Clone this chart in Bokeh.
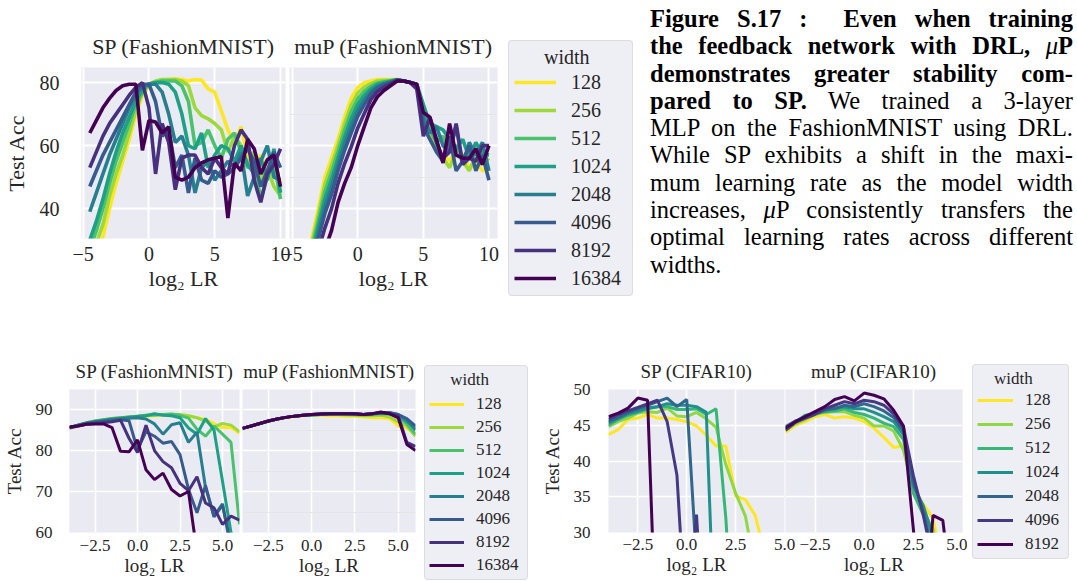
from bokeh.plotting import figure
from bokeh.models import Range1d, Legend, LegendItem, CustomJSTickFormatter, Grid, FixedTicker, Div
from bokeh.layouts import row, column
from bokeh.embed import file_html
from bokeh.resources import INLINE

# ---------------- data ----------------
widths8 = ["128", "256", "512", "1024", "2048", "4096", "8192", "16384"]
widths7 = ["128", "256", "512", "1024", "2048", "4096", "8192"]
colors8 = ["#FDE724", "#9DD93A", "#49C16D", "#1EA087", "#277E8E", "#365B8C", "#46317E", "#440154"]
colors7 = ["#FDE724", "#8FD744", "#35B778", "#20908C", "#30678D", "#443982", "#440154"]

# top row: FashionMNIST trained with DRL
lr_top = [-4.5, -4.0, -3.5, -3.0, -2.5, -2.0, -1.5, -1.0, -0.5, 0.0, 0.5, 1.0, 1.5, 2.0, 2.5,
          3.0, 3.5, 4.0, 4.5, 5.0, 5.5, 6.0, 6.5, 7.0, 7.5, 8.0, 8.5, 9.0, 9.5, 10.0]
top_sp_128 = [22, 26, 31, 40, 48, 55, 62, 70, 76, 79, 80, 80.5, 81, 81.2, 81, 80.5, 81, 80.8, 78, 77, 71, 65, 61, 66, 57, 53, 57, 52, 55, 48]
top_sp_256 = [24, 29, 35, 44, 51, 57, 64, 71, 77, 79.5, 80.5, 81, 81, 81, 80.5, 79, 72, 69.5, 68.5, 67, 65, 58, 63, 60, 54, 58, 49, 53, 47, 44]
top_sp_512 = [27, 33, 40, 48, 55, 61, 67, 73, 77, 79.5, 80, 80.5, 80.5, 80.5, 79, 74, 60, 61, 65, 60, 56, 62, 64, 58, 53, 54, 43, 50, 55, 43]
top_sp_1024 = [30, 36, 43, 51, 58, 64, 69, 74, 78, 79.5, 80, 80, 79.5, 77, 70, 60, 59, 64, 53, 57, 60, 59, 55, 60, 54, 51, 56, 49, 59, 45]
top_sp_2048 = [39, 45, 51, 57, 62, 67, 72, 76, 79, 79.5, 79.5, 77, 70, 61, 63, 57, 45, 53, 55, 49, 52, 55, 53, 58, 44, 50, 55, 60, 50, 49]
top_sp_4096 = [47, 52, 57, 61, 65, 69, 73, 77, 79.5, 79.5, 74, 63, 65, 53, 57, 45, 56, 49, 48, 52, 50, 51, 53, 56, 59, 55, 47, 52, 58, 53]
top_sp_8192 = [53, 58, 63, 67, 70, 73, 76, 78.5, 80, 72, 51, 67, 61, 46, 56, 57, 57, 53, 51, 56, 53, 51, 60, 65, 62, 49, 42, 51, 54, 59]
top_sp_16384 = [64, 68, 72, 75, 77.5, 79, 79.5, 79.5, 58.5, 68, 67.5, 64, 66, 50, 49, 50, 53, 54.5, 55.5, 56, 56.5, 37, 54.5, 52, 62, 59, 51, 55.5, 57, 47]

top_mup_128 = [14, 21, 30.5, 40, 50, 56, 62, 69, 75, 78.5, 80, 80.5, 81, 81, 81, 81, 80.5, 80, 79, 70, 63, 58, 57, 55, 59, 57, 53, 55, 52, 53]
top_mup_256 = [13.2, 19.9, 29, 38.1, 47.7, 53.7, 60, 66.9, 72.8, 76.7, 78.6, 79.7, 80.5, 80.7, 80.8, 81, 80.5, 80, 79, 68, 64, 60, 56, 53, 58, 55, 52, 57, 54, 56]
top_mup_512 = [12.4, 18.8, 27.4, 36.2, 45.4, 51.4, 58, 64.8, 70.6, 74.8, 77.2, 78.8, 79.9, 80.3, 80.6, 80.9, 80.5, 80, 79.5, 71, 65, 61, 63, 58, 60, 56, 59, 55, 58, 57]
top_mup_1024 = [11.6, 17.7, 25.9, 34.3, 43.1, 49.1, 56, 62.7, 68.4, 73, 75.8, 78, 79.4, 80, 80.4, 80.9, 80.5, 80, 79.5, 73, 67, 66, 65, 62, 59, 62, 56, 61, 57, 57]
top_mup_2048 = [10.8, 16.6, 24.3, 32.4, 40.8, 46.8, 54, 60.6, 66.2, 71.1, 74.4, 77.1, 78.8, 79.6, 80.2, 80.8, 80.5, 80, 79.5, 69, 64, 66, 60, 58, 66, 54, 61, 57, 61, 52]
top_mup_4096 = [10, 15.5, 22.8, 30.5, 38.5, 44.5, 52, 58.5, 64, 69.3, 73, 76.3, 78.3, 79.3, 80, 80.8, 80.5, 80, 79, 66, 62, 58, 55, 63, 52, 55, 60, 52, 57, 49]
top_mup_8192 = [8.4, 13.3, 19.7, 26.7, 33.9, 39.9, 48, 54.3, 59.6, 65.6, 70.2, 74.6, 77.2, 78.6, 79.6, 80.7, 80.5, 80, 78, 63, 69, 61, 56, 58, 67, 54, 56, 55, 60, 60]
top_mup_16384 = [6, 10, 15, 21, 27, 33, 42, 48, 53, 60, 66, 72, 75.5, 77.5, 79, 80.5, 80.5, 80, 79.5, 70.5, 69, 62, 54.5, 67, 57, 56, 56, 59, 54, 60]

# bottom-left: FashionMNIST
lr_fm = [-4.0, -3.5, -3.0, -2.5, -2.0, -1.5, -1.0, -0.5, 0.0, 0.5, 1.0, 1.5, 2.0, 2.5, 3.0, 3.5, 4.0, 4.5, 5.0, 5.5, 6.0]
fm_sp_128 = [85.4, 86.0, 86.6, 87.0, 87.3, 87.6, 87.8, 88.0, 88.2, 88.4, 88.5, 88.6, 88.6, 88.6, 88.4, 88.0, 87.6, 86.6, 85.6, 85.6, 84.2]
fm_sp_256 = [85.6, 86.2, 86.8, 87.2, 87.5, 87.8, 88.0, 88.2, 88.4, 88.6, 88.7, 88.8, 88.8, 88.8, 88.5, 88.0, 87.2, 85.8, 86.6, 86.2, 84.6]
fm_sp_512 = [85.6, 86.2, 86.8, 87.2, 87.5, 87.8, 88.0, 88.2, 88.4, 88.6, 88.7, 88.8, 88.9, 88.6, 87.9, 85.2, 83.5, 86.0, 84.0, 82.0, 62.0]
fm_sp_1024 = [85.6, 86.2, 86.7, 87.1, 87.4, 87.7, 87.9, 88.1, 88.3, 88.5, 89.0, 88.6, 88.5, 88.0, 85.5, 84.0, 87.8, 85.0, 72.5, 60.0, 52.0]
fm_sp_2048 = [85.6, 86.2, 86.7, 87.0, 87.3, 87.5, 87.7, 87.9, 88.0, 87.7, 86.5, 84.0, 86.3, 86.8, 82.0, 84.5, 71.0, 64.0, 67.0, 56.0, 48.0]
fm_sp_4096 = [85.6, 86.1, 86.6, 86.9, 87.1, 87.3, 87.5, 87.3, 80.2, 84.6, 83.5, 81.8, 82.2, 79.0, 70.5, 64.8, 71.5, 63.8, 66.7, 57.0, 50.0]
fm_sp_8192 = [85.5, 86.0, 86.4, 86.6, 86.8, 87.0, 87.4, 83.0, 79.5, 86.2, 80.0, 77.3, 75.8, 72.0, 70.2, 73.6, 67.2, 66.0, 62.0, 64.0, 63.0]
fm_sp_16384 = [85.8, 86.0, 86.4, 86.5, 86.5, 85.6, 79.8, 79.7, 82.6, 75.3, 72.9, 74.5, 70.5, 68.9, 70.0, 55.0, 50.0, 45.0, 42.0, 40.0, 38.0]

fm_mup_128 = [85.4, 86.0, 86.6, 87.1, 87.6, 88.0, 88.3, 88.5, 88.6, 88.6, 88.5, 88.5, 88.4, 88.4, 88.2, 88.0, 88.0, 87.8, 86.0, 85.5, 84.0]
fm_mup_256 = [85.4, 86.0, 86.6, 87.2, 87.7, 88.1, 88.4, 88.6, 88.7, 88.8, 88.8, 88.8, 88.7, 88.6, 88.5, 88.5, 88.6, 88.2, 87.0, 86.0, 83.5]
fm_mup_512 = [85.4, 86.0, 86.6, 87.2, 87.7, 88.1, 88.4, 88.6, 88.7, 88.8, 88.9, 88.9, 88.9, 88.8, 88.7, 88.8, 89.0, 88.9, 88.3, 86.5, 84.0]
fm_mup_1024 = [85.4, 86.0, 86.6, 87.2, 87.7, 88.1, 88.4, 88.6, 88.7, 88.8, 88.9, 89.0, 89.0, 88.9, 88.8, 88.9, 89.1, 89.2, 88.5, 87.0, 85.5]
fm_mup_2048 = [85.4, 86.0, 86.6, 87.2, 87.7, 88.1, 88.4, 88.6, 88.8, 88.9, 89.0, 89.0, 89.0, 88.9, 88.8, 89.0, 89.2, 89.3, 88.8, 87.5, 85.0]
fm_mup_4096 = [85.4, 86.0, 86.6, 87.2, 87.7, 88.1, 88.4, 88.6, 88.8, 88.9, 89.0, 89.0, 89.0, 88.9, 88.8, 89.0, 89.2, 89.2, 88.8, 87.8, 86.0]
fm_mup_8192 = [85.4, 86.0, 86.6, 87.2, 87.7, 88.1, 88.4, 88.6, 88.8, 88.9, 89.0, 89.0, 89.0, 89.0, 88.8, 89.0, 89.2, 89.0, 88.5, 82.0, 81.0]
fm_mup_16384 = [85.4, 86.0, 86.6, 87.2, 87.7, 88.1, 88.4, 88.6, 88.8, 88.9, 89.0, 89.0, 89.0, 89.0, 88.8, 89.0, 89.4, 89.0, 88.0, 81.5, 80.0]

# bottom-right: CIFAR10
lr_cf = [-4.0, -3.5, -3.0, -2.5, -2.0, -1.5, -1.0, -0.5, 0.0, 0.5, 1.0, 1.5, 2.0, 2.5, 3.0, 3.5, 4.0, 4.5, 5.0]
cf_sp_128 = [43.7, 44.4, 45.8, 46.0, 46.5, 46.0, 46.0, 45.8, 45.5, 44.9, 43.6, 42.1, 42.1, 35.1, 34.6, 32.4, 27.0, 20.0, 15.0]
cf_sp_256 = [44.8, 45.5, 46.0, 46.7, 46.9, 46.8, 47.4, 46.3, 46.2, 46.8, 45.9, 44.7, 39.5, 35.5, 32.3, 25.0, 15.0, 10.0, 10.0]
cf_sp_512 = [45.0, 45.8, 46.4, 46.8, 47.3, 47.6, 47.6, 47.2, 47.2, 47.3, 46.5, 47.3, 32.0, 10.0, 10.0, 10.0, 10.0, 10.0, 10.0]
cf_sp_1024 = [45.3, 46.0, 46.6, 47.0, 47.4, 47.6, 48.0, 47.8, 47.8, 47.6, 46.8, 10.0, 10.0, 10.0, 10.0, 10.0, 10.0, 10.0, 10.0]
cf_sp_2048 = [45.5, 46.1, 46.8, 47.3, 47.8, 48.3, 48.8, 47.6, 48.6, 26.0, 10.0, 10.0, 10.0, 10.0, 10.0, 10.0, 10.0, 10.0, 10.0]
cf_sp_4096 = [45.8, 46.5, 47.0, 47.5, 48.0, 48.5, 45.5, 38.0, 15.0, 32.5, 10.0, 10.0, 10.0, 10.0, 10.0, 10.0, 10.0, 10.0, 10.0]
cf_sp_8192 = [46.2, 46.7, 47.4, 48.8, 48.5, 10.0, 10.0, 10.0, 10.0, 10.0, 10.0, 10.0, 10.0, 10.0, 10.0, 10.0, 10.0, 10.0, 10.0]

cf_mup_128 = [44.0, 45.0, 45.5, 46.2, 46.5, 46.0, 46.2, 46.0, 45.5, 44.6, 43.3, 41.9, 42.1, 36.0, 34.0, 32.0, 25.0, 18.0, 12.0]
cf_mup_256 = [44.3, 45.2, 45.8, 46.5, 46.8, 46.9, 46.9, 46.4, 46.0, 44.9, 44.9, 44.2, 41.5, 36.0, 33.0, 30.5, 24.0, 17.0, 12.0]
cf_mup_512 = [44.4, 45.4, 46.4, 46.6, 46.9, 47.0, 47.3, 46.8, 46.5, 46.0, 45.3, 44.8, 43.0, 35.5, 32.5, 29.0, 22.0, 16.0, 12.0]
cf_mup_1024 = [44.5, 45.5, 46.3, 46.7, 47.0, 47.4, 47.6, 47.3, 47.3, 46.8, 46.2, 45.5, 43.7, 36.5, 33.8, 29.5, 22.0, 16.0, 12.0]
cf_mup_2048 = [44.8, 45.6, 46.0, 46.5, 47.2, 47.3, 47.8, 47.6, 48.0, 47.6, 47.0, 46.1, 44.2, 37.0, 33.0, 27.0, 20.0, 15.0, 12.0]
cf_mup_4096 = [44.3, 45.4, 46.0, 46.6, 47.3, 47.8, 48.3, 48.0, 48.5, 48.3, 47.8, 46.6, 44.7, 38.0, 32.5, 26.0, 20.0, 15.0, 12.0]
cf_mup_8192 = [44.6, 45.5, 46.2, 46.9, 47.6, 48.6, 49.0, 48.4, 49.5, 49.2, 48.7, 47.1, 44.9, 30.5, 15.0, 32.4, 31.7, 20.0, 15.0]

top_ticks_x = [-5, 0, 5, 10]
top_ticks_y = [40, 60, 80]
fm_ticks_x = [-2.5, 0, 2.5, 5]
fm_ticks_y = [60, 70, 80, 90]
cf_ticks_x = [-2.5, 0, 2.5, 5]
cf_ticks_y = [30, 35, 40, 45, 50]

# ---------------- styling helpers ----------------
FONT = "Liberation Serif"
INK = "#262626"
BG = "#EAEAF2"


def fmt(dec):
    return CustomJSTickFormatter(
        code="return (tick < 0 ? '\u2212' : '') + Math.abs(tick).toFixed(%d);" % dec)


def panel(w, h, bl, br, bt, bb, xr, yr, xt, yt, title, title_fs, tick_fs, lab_fs, ylabel, dec,
          x_std, xl_std, y_std, yl_std, t_std, grid_w, clear=False, shift=0):
    p = figure(width=w, height=h, x_range=Range1d(*xr), y_range=Range1d(*yr),
               output_backend="svg", toolbar_location=None, title=title,
               y_axis_location="left" if ylabel else None,
               min_border_left=bl, min_border_right=br, min_border_top=bt, min_border_bottom=bb)
    p.background_fill_color = BG
    p.outline_line_color = None
    if clear:
        p.border_fill_alpha = 0.0
    if shift:
        p.margin = (0, 0, 0, -shift)
    t = p.title
    t.align = "center"
    t.text_font = FONT
    t.text_font_size = f"{title_fs}px"
    t.text_font_style = "normal"
    t.text_color = INK
    t.standoff = t_std

    def style(ax, std, lstd):
        ax.axis_line_color = None
        ax.major_tick_line_color = None
        ax.minor_tick_line_color = None
        ax.major_tick_out = 0
        ax.major_tick_in = 0
        ax.major_label_standoff = std
        ax.axis_label_standoff = lstd
        ax.major_label_text_font = FONT
        ax.major_label_text_font_size = f"{tick_fs}px"
        ax.major_label_text_color = INK
        ax.axis_label_text_font = FONT
        ax.axis_label_text_font_size = f"{lab_fs}px"
        ax.axis_label_text_font_style = "normal"
        ax.axis_label_text_color = INK

    ax = p.xaxis[0]
    ax.ticker = FixedTicker(ticks=xt)
    ax.formatter = fmt(dec)
    ax.axis_label = "log\u2082 LR"
    style(ax, x_std, xl_std)
    p.xgrid.grid_line_color = "white"
    p.xgrid.grid_line_width = grid_w
    if ylabel:
        ay = p.yaxis[0]
        ay.ticker = FixedTicker(ticks=yt)
        ay.formatter = fmt(0)
        ay.axis_label = ylabel
        style(ay, y_std, yl_std)
        p.ygrid.grid_line_color = "white"
        p.ygrid.grid_line_width = grid_w
    else:
        p.add_layout(Grid(dimension=1, ticker=FixedTicker(ticks=yt),
                          grid_line_color="white", grid_line_width=grid_w))
    return p


def draw(p, xs, series, colors, lw):
    return [p.line(xs, ys, line_color=c, line_width=lw) for ys, c in zip(series, colors)]


def legend_fig(w, h, xs, series, labels, colors, lw, loc, fs, glyph_w, item_h, spacing, pad,
               standoff, nbsp, label_w, title_std):
    """A borderless figure that only holds the legend box; its (hidden) key lines carry the panel's series."""
    lf = figure(width=w, height=h, x_axis_location=None, y_axis_location=None,
                toolbar_location=None, output_backend="svg", min_border=0)
    lf.frame_align = False
    lf.outline_line_color = None
    lf.background_fill_color = "white"
    lf.border_fill_color = "white"
    for g in lf.grid:
        g.visible = False
    keys = [lf.line(xs, ys, line_color=c, line_width=lw, visible=False) for ys, c in zip(series, colors)]
    items = [LegendItem(label=l, renderers=[r]) for l, r in zip(labels, keys)]
    leg = Legend(items=items, location=loc, title="\u00a0" * nbsp + "width")
    leg.inactive_fill_alpha = 0.0
    leg.title_text_font = FONT
    leg.title_text_font_size = f"{fs}px"
    leg.title_text_font_style = "normal"
    leg.title_text_color = INK
    leg.title_standoff = title_std
    leg.label_text_font = FONT
    leg.label_text_font_size = f"{fs}px"
    leg.label_text_color = INK
    leg.glyph_width = glyph_w
    leg.glyph_height = item_h
    leg.label_height = item_h
    leg.label_width = label_w
    leg.label_standoff = standoff
    leg.spacing = spacing
    leg.padding = pad
    leg.margin = 0
    leg.border_line_color = "#CCCCCC"
    leg.border_line_width = 1
    leg.background_fill_color = BG
    leg.background_fill_alpha = 0.8
    if "border_radius" in Legend.properties():
        leg.border_radius = 4
    lf.add_layout(leg)
    return lf


# ---------------- top row ----------------
top_sp = [top_sp_128, top_sp_256, top_sp_512, top_sp_1024, top_sp_2048, top_sp_4096, top_sp_8192, top_sp_16384]
top_mup = [top_mup_128, top_mup_256, top_mup_512, top_mup_1024, top_mup_2048, top_mup_4096, top_mup_8192, top_mup_16384]

pA = panel(300, 300, 80, 15, 67, 62, (-5.13, 10.38), (30.5, 84.8), top_ticks_x, top_ticks_y,
           "SP (FashionMNIST)", 22, 20, 22, "Test Acc", 0, 8, 2, 22, 8, 17, 2)
draw(pA, lr_top, top_sp, colors8, 3.6)
pB = panel(227, 300, 14, 5, 67, 62, (-5.2, 10.65), (30.5, 84.8), top_ticks_x, top_ticks_y,
           "muP (FashionMNIST)", 22, 20, 22, None, 0, 8, 2, 22, 8, 17, 2, clear=True, shift=25)
draw(pB, lr_top, top_mup, colors8, 3.6)
lgB = legend_fig(138, 300, lr_top, top_mup, widths8, colors8, 3.6, (6, 4), 20, 42, 24, 4, 5,
                 15, 6, 56, 1)

caption_lines = [
    "<b>Figure S.17 :&nbsp; Even when training</b>",
    "<b>the feedback network with DRL, </b><i>\u03bc</i><b>P</b>",
    "<b>demonstrates greater stability com-</b>",
    "<b>pared to SP.</b> We trained a 3-layer",
    "MLP on the FashionMNIST using DRL.",
    "While SP exhibits a shift in the maxi-",
    "mum learning rate as the model width",
    "increases, <i>\u03bc</i>P consistently transfers the",
    "optimal learning rates across different",
    "widths.",
]
html = ["<div style=\"width:423px;margin-left:10px;padding-top:5px;font-family:'Liberation Serif',serif;"
        "font-size:24.5px;line-height:27.3px;color:#000;\">"]
for i, ln in enumerate(caption_lines):
    last = i == len(caption_lines) - 1
    al = "left" if last else "justify"
    html.append(f"<div style=\"text-align:justify;text-align-last:{al};white-space:nowrap;\">{ln}</div>")
html.append("</div>")
cap = Div(text="".join(html), width=437, height=300, margin=(0, 0, 0, 0))

# ---------------- bottom row ----------------
fm_sp = [fm_sp_128, fm_sp_256, fm_sp_512, fm_sp_1024, fm_sp_2048, fm_sp_4096, fm_sp_8192, fm_sp_16384]
fm_mup = [fm_mup_128, fm_mup_256, fm_mup_512, fm_mup_1024, fm_mup_2048, fm_mup_4096, fm_mup_8192, fm_mup_16384]
cf_sp = [cf_sp_128, cf_sp_256, cf_sp_512, cf_sp_1024, cf_sp_2048, cf_sp_4096, cf_sp_8192]
cf_mup = [cf_mup_128, cf_mup_256, cf_mup_512, cf_mup_1024, cf_mup_2048, cf_mup_4096, cf_mup_8192]

pC = panel(240, 281, 67, 1, 89, 49, (-4, 6), (60, 94.9), fm_ticks_x, fm_ticks_y,
           "SP (FashionMNIST)", 19, 17, 19, "Test Acc", 1, 7, 1, 17, 8, 15, 1.6)
draw(pC, lr_fm, fm_sp, colors8, 3)
pD = panel(180, 281, 2, 5, 89, 49, (-4, 6), (60, 94.9), fm_ticks_x, fm_ticks_y,
           "muP (FashionMNIST)", 19, 17, 19, None, 1, 7, 1, 17, 8, 15, 1.6)
draw(pD, lr_fm, fm_mup, colors8, 3)
lgD = legend_fig(115, 281, lr_fm, fm_mup, widths8, colors8, 3, (4, 1), 17, 35, 20, 3, 4,
                 12, 5, 47, 4)

pE = panel(269, 281, 73, 20, 88, 47, (-4, 5), (30, 50), cf_ticks_x, cf_ticks_y,
           "SP (CIFAR10)", 19, 17, 19, "Test Acc", 1, 6, 1, 18, 8, 15, 1.6)
draw(pE, lr_cf, cf_sp, colors7, 3)
pF = panel(183, 281, 1, 5, 88, 47, (-4, 5), (30, 50), cf_ticks_x, cf_ticks_y,
           "muP (CIFAR10)", 19, 17, 19, None, 1, 6, 1, 18, 8, 15, 1.6, clear=True, shift=20)
draw(pF, lr_cf, cf_mup, colors7, 3)
lgF = legend_fig(110, 281, lr_cf, cf_mup, widths7, colors7, 3, (5, 22), 17, 36, 20, 4, 4,
                 12, 4, 39, 1)

layout = column(row(pA, pB, lgB, cap), row(pC, pD, lgD, pE, pF, lgF))
open("out.html", "w", encoding="utf-8").write(file_html(layout, INLINE, "Figure S.17"))
